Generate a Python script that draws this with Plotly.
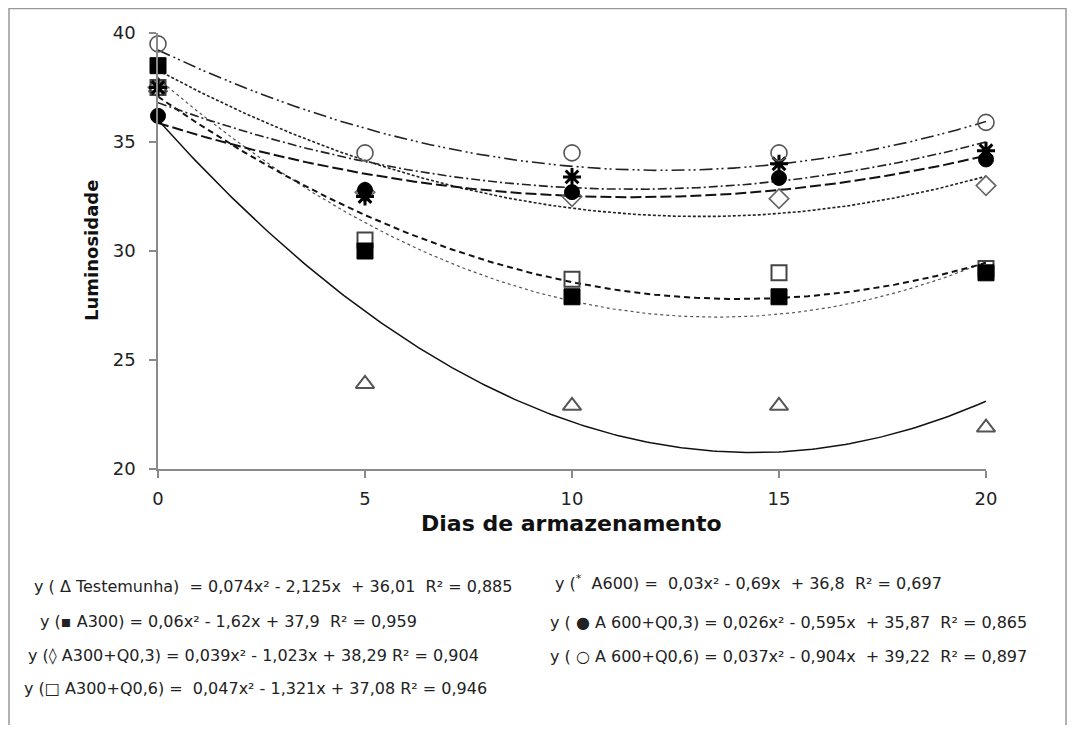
import numpy as np
import plotly.graph_objects as go

# ---- data ----
dias = [0, 5, 10, 15, 20]
series_names = ["Testemunha", "A300", "A300+Q0,3", "A300+Q0,6", "A600", "A600+Q0,3", "A600+Q0,6"]
testemunha = [37.5, 23.9, 22.9, 22.9, 21.9]
a300 = [38.5, 30.0, 27.9, 27.9, 29.0]
a300_q03 = [37.5, 32.7, 32.5, 32.4, 33.0]
a300_q06 = [37.5, 30.5, 28.7, 29.0, 29.2]
a600 = [37.5, 32.5, 33.4, 34.0, 34.6]
a600_q03 = [36.2, 32.8, 32.7, 33.35, 34.2]
a600_q06 = [39.5, 34.5, 34.5, 34.5, 35.9]
values = [testemunha, a300, a300_q03, a300_q06, a600, a600_q03, a600_q06]

# quadratic trend coefficients (a, b, c): y = a x^2 + b x + c
coef_a = [0.074, 0.06, 0.039, 0.047, 0.03, 0.026, 0.037]
coef_b = [-2.125, -1.62, -1.023, -1.321, -0.69, -0.595, -0.904]
coef_c = [36.01, 37.9, 38.29, 37.08, 36.8, 35.87, 39.22]

equations = [
    "y ( Δ Testemunha)  = 0,074x² - 2,125x  + 36,01  R² = 0,885",
    "y (▪ A300) = 0,06x² - 1,62x + 37,9  R² = 0,959",
    "y (◊ A300+Q0,3) = 0,039x² - 1,023x + 38,29 R² = 0,904",
    "y (□ A300+Q0,6) =  0,047x² - 1,321x + 37,08 R² = 0,946",
    "y (<sup>*</sup>  A600) =  0,03x² - 0,69x  + 36,8  R² = 0,697",
    "y ( ● A 600+Q0,3) = 0,026x² - 0,595x  + 35,87  R² = 0,865",
    "y ( ○ A 600+Q0,6) = 0,037x² - 0,904x  + 39,22  R² = 0,897",
]

# ---- styles ----
line_dash = ["solid", "dot", "3px,2px", "6px,4px", "9px,3px,2px,3px", "11px,4px", "13px,4px,2px,3px,2px,4px"]
line_width = [1.5, 1.2, 1.6, 2, 1.6, 2, 1.6]
line_color = ["#111", "#555", "#222", "#111", "#222", "#111", "#222"]
m_symbol = ["triangle-up-open", "square", "diamond-open", "square-open", "asterisk-open", "circle", "circle-open"]
m_size = [16, 16, 15, 15, 15, 15, 16]
m_color = ["#555", "#000", "#666", "#444", "#000", "#000", "#555"]
m_lw = [2, 1, 1.6, 2, 3, 1, 1.6]

# page offset (browser body margin) and figure geometry
OFF = 8
W, H = 1060, 717
L, T = 158 - OFF, 33 - OFF
PW, PH = 828, 436
R = W - L - PW
B = H - T - PH

def px(x):  # image pixel x -> paper
    return (x - 158) / PW

def py(y):  # image pixel y -> paper
    return (469 - y) / PH

fig = go.Figure()
xs = np.linspace(0, 20, 201)
for i in range(7):
    ys = coef_a[i] * xs ** 2 + coef_b[i] * xs + coef_c[i]
    fig.add_trace(go.Scatter(x=xs, y=ys, mode="lines", showlegend=False,
                             line=dict(color=line_color[i], width=line_width[i], dash=line_dash[i]),
                             hoverinfo="skip"))

order = [0, 2, 3, 1, 5, 4, 6]
for i in order:
    fig.add_trace(go.Scatter(x=dias, y=values[i], mode="markers", name=series_names[i],
                             showlegend=False, cliponaxis=False,
                             marker=dict(symbol=m_symbol[i], size=m_size[i], color=m_color[i],
                                         line=dict(color=m_color[i], width=m_lw[i]))))

axis_common = dict(showgrid=False, zeroline=False, showline=True, linecolor="#8a8a8a", linewidth=1.5,
                   ticks="outside", ticklen=7, tickcolor="#8a8a8a", tickwidth=1.5,
                   tickfont=dict(family="DejaVu Sans", size=18, color="#222"))
fig.update_xaxes(range=[0, 20], tick0=0, dtick=5, ticklabelstandoff=6, **axis_common)
fig.update_yaxes(range=[20, 40], tick0=20, dtick=5, ticklabelstandoff=10, **axis_common)

ann = []
ann.append(dict(text="<b>Luminosidade</b>", x=px(91), y=py(251), xref="paper", yref="paper",
                xanchor="center", yanchor="middle",
                textangle=-90, showarrow=False, font=dict(family="DejaVu Sans", size=18, color="#111")))
ann.append(dict(text="<b>Dias de armazenamento</b>", x=px(571), y=py(523), xref="paper", yref="paper",
                xanchor="center", yanchor="middle",
                showarrow=False, font=dict(family="DejaVu Sans", size=22, color="#111")))
eq_pos = [(32, 586), (38, 621), (26, 655), (22, 689), (553, 582), (548, 622), (548, 656)]
for t, (ex, ey) in zip(equations, eq_pos):
    ann.append(dict(text=t, x=px(ex), y=py(ey), xref="paper", yref="paper", xanchor="left", yanchor="middle",
                    showarrow=False, font=dict(family="DejaVu Sans", size=16, color="#222")))

fig.update_layout(
    width=W, height=H, margin=dict(l=L, r=R, t=T, b=B),
    paper_bgcolor="white", plot_bgcolor="white",
    annotations=ann,
    shapes=[dict(type="rect", xref="paper", yref="paper", x0=px(9), x1=px(1066), y0=py(760), y1=py(8.5),
                 line=dict(color="#999", width=1.5), layer="below")],
)

fig.write_html("out.html")
